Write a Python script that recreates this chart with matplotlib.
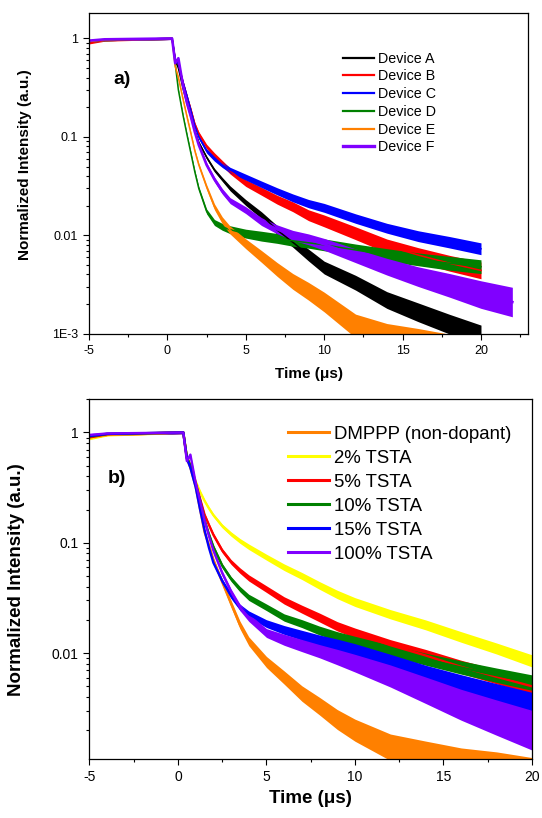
import matplotlib
matplotlib.use('Agg')
import matplotlib.pyplot as plt
import matplotlib.ticker as mticker
import numpy as np

plt.rcParams['font.family'] = ['Liberation Sans', 'DejaVu Sans']

# ---- panel a) : Device A-F ----
t_top = [-5, -4, 0.3, 0.5, 0.7, 1.0, 1.25, 1.5, 1.75, 2, 2.5, 3, 3.5, 4, 5,
         6, 7, 8, 9, 10, 12, 14, 16, 18, 20]
t_top_f = t_top + [22]

dev_a = [0.94, 0.97, 1.0, 0.6, 0.5, 0.31, 0.22, 0.16, 0.115, 0.088, 0.062, 0.046, 0.037, 0.030, 0.0215,
         0.016, 0.0113, 0.0085, 0.0063, 0.0047, 0.0033, 0.0022, 0.00165, 0.00125, 0.00095]
dev_b = [0.9, 0.96, 1.0, 0.62, 0.55, 0.36, 0.26, 0.19, 0.135, 0.108, 0.080, 0.065, 0.054, 0.045, 0.034,
         0.028, 0.023, 0.0195, 0.016, 0.014, 0.0105, 0.0078, 0.0063, 0.0052, 0.0044]
dev_c = [0.93, 0.97, 1.0, 0.62, 0.55, 0.36, 0.26, 0.185, 0.13, 0.10, 0.072, 0.060, 0.052, 0.046, 0.039,
         0.033, 0.028, 0.024, 0.021, 0.019, 0.0148, 0.0118, 0.0098, 0.0085, 0.0073]
dev_d = [0.93, 0.97, 1.0, 0.55, 0.30, 0.165, 0.105, 0.068, 0.044, 0.030, 0.0175, 0.0135, 0.0122, 0.0114, 0.0104,
         0.0098, 0.0093, 0.0088, 0.0084, 0.0080, 0.0071, 0.0063, 0.0057, 0.0052, 0.0048]
dev_e = [0.93, 0.97, 1.0, 0.52, 0.40, 0.24, 0.16, 0.108, 0.072, 0.052, 0.031, 0.0195, 0.0142, 0.0113, 0.0082,
         0.0061, 0.0045, 0.0034, 0.0027, 0.0021, 0.0012, 0.00092, 0.0008, 0.0007, 0.0006]
dev_f = [0.95, 0.98, 1.0, 0.56, 0.63, 0.33, 0.22, 0.16, 0.112, 0.083, 0.052, 0.037, 0.028, 0.0225, 0.018,
         0.0138, 0.0115, 0.010, 0.0091, 0.0081, 0.0062, 0.0048, 0.0038, 0.0031, 0.0025, 0.0021]

# noise band half-width (decades)
w_a = [0.01, 0.01, 0.01, 0.01, 0.01, 0.01, 0.01, 0.01, 0.01, 0.012, 0.015, 0.018, 0.02, 0.025, 0.03,
       0.035, 0.045, 0.05, 0.06, 0.065, 0.075, 0.085, 0.095, 0.1, 0.11]
w_b = [0.01, 0.01, 0.01, 0.01, 0.01, 0.01, 0.012, 0.015, 0.018, 0.02, 0.022, 0.025, 0.028, 0.03, 0.035,
       0.04, 0.045, 0.05, 0.055, 0.06, 0.065, 0.07, 0.075, 0.08, 0.085]
w_c = [0.01, 0.01, 0.01, 0.01, 0.01, 0.01, 0.012, 0.015, 0.018, 0.02, 0.022, 0.025, 0.027, 0.028, 0.03,
       0.033, 0.036, 0.04, 0.042, 0.045, 0.048, 0.05, 0.055, 0.058, 0.06]
w_d = [0.01, 0.01, 0.01, 0.01, 0.01, 0.01, 0.012, 0.015, 0.018, 0.02, 0.025, 0.03, 0.035, 0.04, 0.045,
       0.05, 0.05, 0.055, 0.055, 0.06, 0.06, 0.065, 0.065, 0.07, 0.07]
w_e = [0.01, 0.01, 0.01, 0.01, 0.01, 0.012, 0.015, 0.015, 0.018, 0.02, 0.025, 0.03, 0.035, 0.04, 0.05,
       0.06, 0.07, 0.08, 0.09, 0.1, 0.12, 0.14, 0.15, 0.15, 0.15]
w_f = [0.012, 0.012, 0.012, 0.012, 0.012, 0.012, 0.015, 0.015, 0.018, 0.02, 0.022, 0.025, 0.028, 0.03, 0.035,
       0.04, 0.045, 0.05, 0.055, 0.06, 0.07, 0.085, 0.1, 0.12, 0.14, 0.15]

labels_top = ['Device A', 'Device B', 'Device C', 'Device D', 'Device E', 'Device F']
colors_top = ['#000000', '#ff0000', '#0000ff', '#008000', '#ff8000', '#8000ff']

# ---- panel b) : TSTA doping ----
t_bot = [-5, -4, 0.3, 0.5, 0.7, 1.0, 1.25, 1.5, 1.75, 2, 2.5, 3, 3.5, 4, 5,
         6, 7, 8, 9, 10, 12, 14, 16, 18, 20]

dmppp = [0.9, 0.96, 1.0, 0.58, 0.48, 0.32, 0.20, 0.125, 0.095, 0.070, 0.044, 0.028, 0.018, 0.0128, 0.0083,
         0.006, 0.0043, 0.0033, 0.0025, 0.002, 0.0014, 0.00118, 0.001, 0.0009, 0.0008]
tsta2 = [0.88, 0.95, 1.0, 0.6, 0.5, 0.36, 0.29, 0.24, 0.205, 0.178, 0.142, 0.12, 0.104, 0.092, 0.074,
         0.06, 0.05, 0.041, 0.034, 0.029, 0.0225, 0.018, 0.014, 0.011, 0.0085]
tsta5 = [0.9, 0.96, 1.0, 0.6, 0.5, 0.35, 0.25, 0.18, 0.145, 0.118, 0.085, 0.067, 0.056, 0.048, 0.038,
         0.030, 0.025, 0.021, 0.0175, 0.0152, 0.0118, 0.0095, 0.0075, 0.0061, 0.005]
tsta10 = [0.92, 0.97, 1.0, 0.6, 0.5, 0.34, 0.24, 0.16, 0.12, 0.092, 0.062, 0.047, 0.038, 0.032, 0.026,
          0.021, 0.0185, 0.016, 0.0142, 0.0128, 0.0105, 0.0088, 0.0074, 0.0063, 0.0054]
tsta15 = [0.93, 0.97, 1.0, 0.58, 0.48, 0.32, 0.20, 0.13, 0.09, 0.066, 0.045, 0.033, 0.026, 0.0225, 0.0185,
          0.0162, 0.0145, 0.013, 0.0118, 0.0106, 0.0084, 0.0066, 0.0053, 0.0043, 0.0035]
tsta100 = [0.95, 0.98, 1.0, 0.55, 0.63, 0.35, 0.24, 0.16, 0.115, 0.085, 0.053, 0.036, 0.026, 0.021, 0.0152,
           0.0132, 0.0117, 0.0104, 0.0092, 0.0081, 0.0062, 0.0046, 0.0034, 0.0026, 0.002]

w_dm = [0.01, 0.01, 0.01, 0.01, 0.01, 0.012, 0.015, 0.015, 0.018, 0.02, 0.025, 0.03, 0.035, 0.04, 0.05,
        0.06, 0.07, 0.08, 0.09, 0.1, 0.12, 0.13, 0.14, 0.15, 0.15]
w_2 = [0.01, 0.01, 0.01, 0.01, 0.01, 0.012, 0.012, 0.015, 0.015, 0.015, 0.018, 0.02, 0.022, 0.025, 0.027,
       0.03, 0.032, 0.035, 0.038, 0.04, 0.042, 0.045, 0.048, 0.05, 0.055]
w_5 = [0.01, 0.01, 0.01, 0.01, 0.01, 0.012, 0.012, 0.015, 0.015, 0.018, 0.02, 0.022, 0.025, 0.028, 0.03,
       0.033, 0.036, 0.04, 0.042, 0.045, 0.05, 0.055, 0.06, 0.065, 0.07]
w_10 = [0.01, 0.01, 0.01, 0.01, 0.01, 0.012, 0.012, 0.015, 0.015, 0.018, 0.02, 0.022, 0.025, 0.028, 0.03,
        0.033, 0.036, 0.04, 0.042, 0.045, 0.05, 0.055, 0.06, 0.065, 0.07]
w_15 = [0.01, 0.01, 0.01, 0.01, 0.01, 0.012, 0.012, 0.015, 0.015, 0.018, 0.02, 0.025, 0.028, 0.03, 0.035,
        0.04, 0.045, 0.05, 0.055, 0.06, 0.065, 0.07, 0.08, 0.09, 0.1]
w_100 = [0.012, 0.012, 0.012, 0.012, 0.012, 0.012, 0.015, 0.015, 0.018, 0.02, 0.022, 0.025, 0.03, 0.035, 0.04,
         0.05, 0.055, 0.06, 0.07, 0.08, 0.1, 0.12, 0.14, 0.16, 0.18]

labels_bot = ['DMPPP (non-dopant)', '2% TSTA', '5% TSTA', '10% TSTA', '15% TSTA', '100% TSTA']
colors_bot = ['#ff8000', '#ffff00', '#ff0000', '#008000', '#0000ff', '#8000ff']


def draw_curve(ax, t, y, w, color, label, lw):
    t = np.array(t)
    y = np.array(y)
    w = np.array(w)
    ax.fill_between(t, y * 10 ** (-w), y * 10 ** w, color=color, lw=0)
    ax.plot(t, y, color=color, lw=lw, label=label)


def style_axes(ax, tick_size):
    ax.set_yscale('log')
    ax.xaxis.set_major_locator(mticker.MultipleLocator(5))
    ax.xaxis.set_minor_locator(mticker.MultipleLocator(2.5))
    ax.yaxis.set_minor_locator(mticker.LogLocator(base=10, subs=np.arange(2, 10)))
    ax.yaxis.set_minor_formatter(mticker.NullFormatter())
    ax.tick_params(which='major', direction='out', length=4, width=0.8,
                   labelsize=tick_size, pad=4, top=False, right=False)
    ax.tick_params(which='minor', direction='out', length=2.5, width=0.8,
                   top=False, right=False)
    for s in ax.spines.values():
        s.set_linewidth(0.9)


fig = plt.figure(figsize=(5.42, 8.18), dpi=100)

# ---------- top ----------
ax1 = fig.add_axes([0.1642, 0.592, 0.81, 0.3917])
sets_top = [(t_top, dev_a, w_a), (t_top, dev_b, w_b), (t_top, dev_c, w_c),
            (t_top, dev_d, w_d), (t_top, dev_e, w_e), (t_top_f, dev_f, w_f)]
for (t, y, w), c, lab in zip(sets_top, colors_top, labels_top):
    draw_curve(ax1, t, y, w, c, lab, 1.9 if lab == 'Device F' else 1.1)
style_axes(ax1, 9)
ax1.set_xlim(-5, 23)
ax1.set_ylim(1e-3, 1.8)
ax1.set_yticks([1e-3, 1e-2, 1e-1, 1])
ax1.set_yticklabels(['1E-3', '0.01', '0.1', '1'])
ax1.set_xticks([-5, 0, 5, 10, 15, 20])
ax1.set_xticklabels(['-5', '0', '5', '10', '15', '20'])
ax1.set_xlabel('Time (\u03bcs)', fontsize=11, fontweight='bold')
ax1.set_ylabel('Normalized Intensity (a.u.)', fontsize=11, fontweight='bold')
ax1.xaxis.set_label_coords(0.5, -0.104)
ax1.yaxis.set_label_coords(-0.13, 0.529)
ax1.text(0.075, 0.795, 'a)', transform=ax1.transAxes, fontsize=14,
         fontweight='bold', ha='center', va='center')
leg1 = ax1.legend(loc='upper left', bbox_to_anchor=(0.632, 0.9368),
                  bbox_transform=fig.transFigure, frameon=False, fontsize=10.3,
                  handlelength=2.17, handletextpad=0.3, labelspacing=0.26,
                  borderpad=0, borderaxespad=0)
for h in leg1.get_lines():
    h.set_linewidth(1.6 if h.get_label() != 'Device F' else 2.4)

# ---------- bottom ----------
ax2 = fig.add_axes([0.1651, 0.0718, 0.8164, 0.4401])
sets_bot = [(dmppp, w_dm), (tsta2, w_2), (tsta5, w_5), (tsta10, w_10), (tsta15, w_15), (tsta100, w_100)]
for (y, w), c, lab in zip(sets_bot, colors_bot, labels_bot):
    draw_curve(ax2, t_bot, y, w, c, lab, 1.7)
style_axes(ax2, 10)
ax2.set_xlim(-5, 20)
ax2.set_ylim(1.09e-3, 2.0)
ax2.set_yticks([1e-2, 1e-1, 1])
ax2.set_yticklabels(['0.01', '0.1', '1'])
ax2.set_xticks([-5, 0, 5, 10, 15, 20])
ax2.set_xticklabels(['-5', '0', '5', '10', '15', '20'])
ax2.set_xlabel('Time (\u03bcs)', fontsize=13.5, fontweight='bold')
ax2.set_ylabel('Normalized Intensity (a.u.)', fontsize=13.5, fontweight='bold')
ax2.xaxis.set_label_coords(0.5, -0.0867)
ax2.yaxis.set_label_coords(-0.146, 0.5)
ax2.text(0.063, 0.78, 'b)', transform=ax2.transAxes, fontsize=14,
         fontweight='bold', ha='center', va='center')
leg2 = ax2.legend(loc='upper left', bbox_to_anchor=(0.532, 0.4793),
                  bbox_transform=fig.transFigure, frameon=False, fontsize=13.4,
                  handlelength=2.2, handletextpad=0.27, labelspacing=0.37,
                  borderpad=0, borderaxespad=0)
for h in leg2.get_lines():
    h.set_linewidth(2.2)

fig.savefig('out.png', dpi=100)
